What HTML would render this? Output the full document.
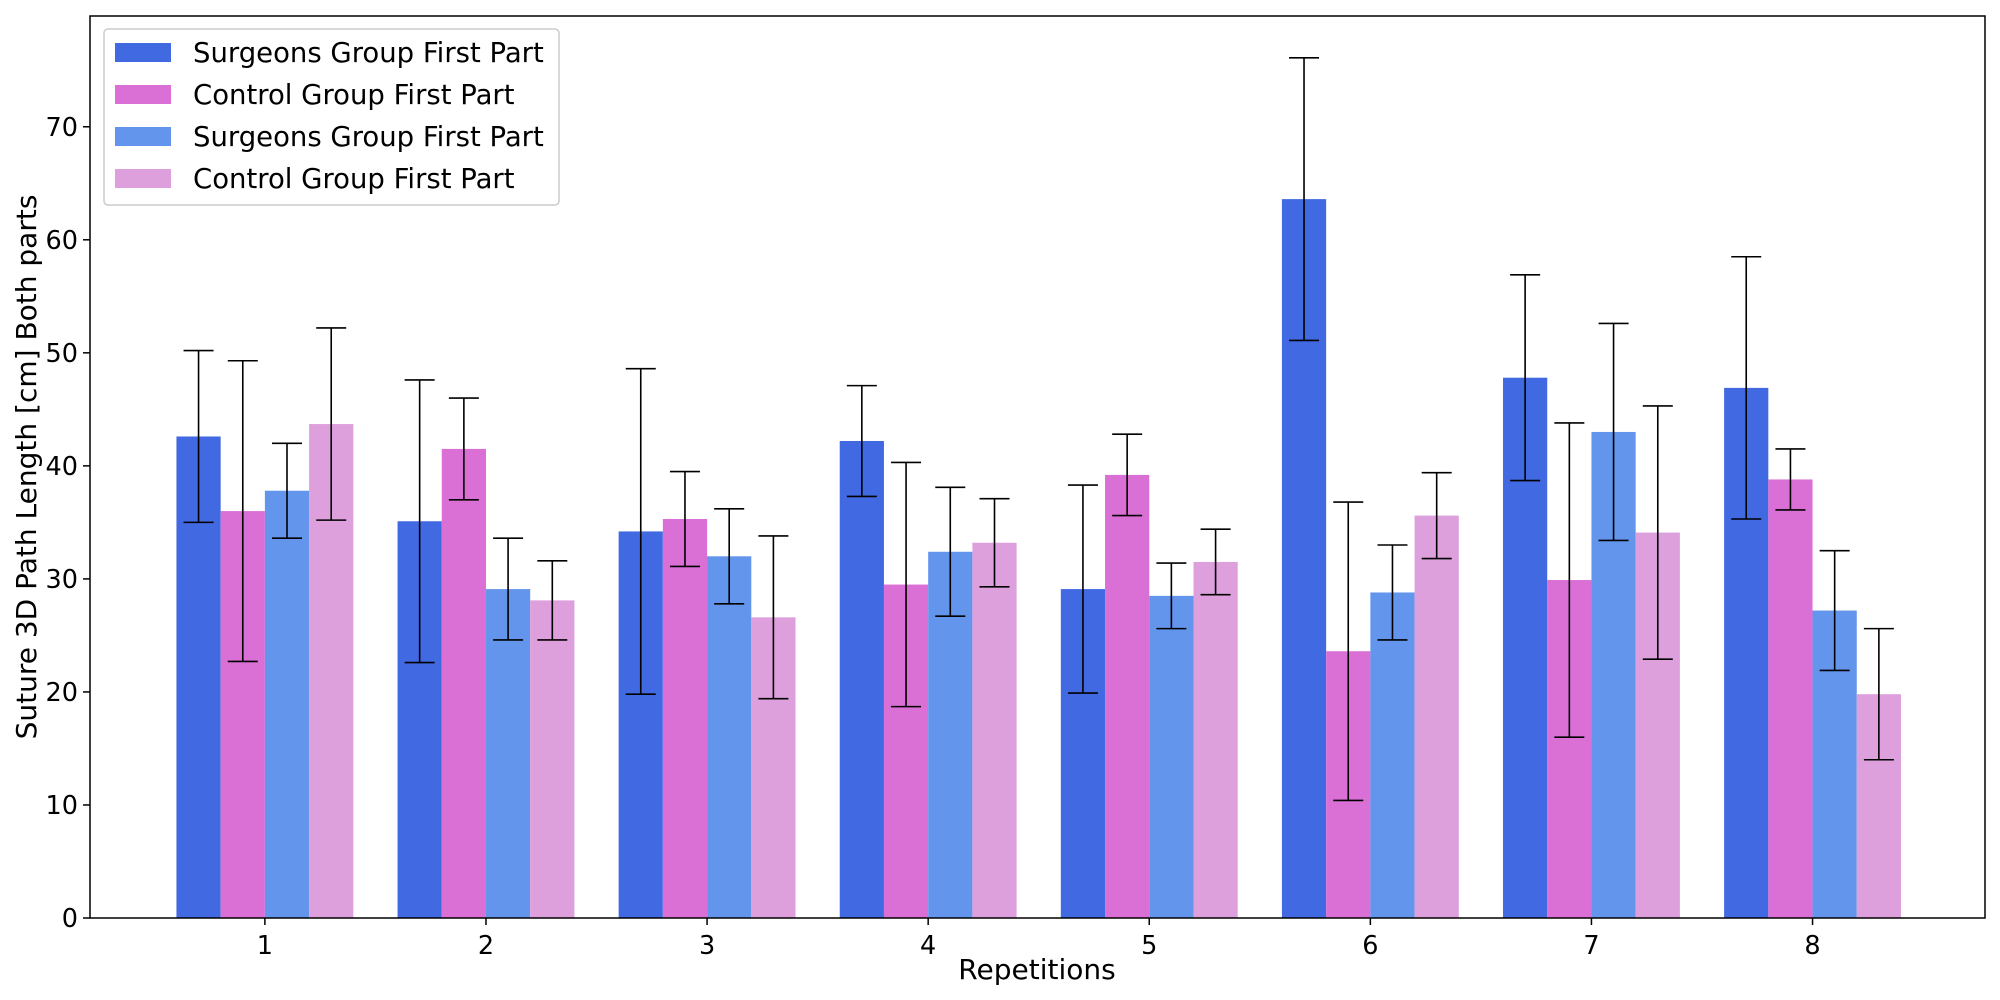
<!DOCTYPE html>
<html><head><meta charset="utf-8"><style>
body{margin:0;background:#fff}
svg{display:block;font-family:"DejaVu Sans","Liberation Sans",sans-serif}
</style></head><body>
<svg id="chart" width="2000" height="1000" xmlns="http://www.w3.org/2000/svg">
<rect width="2000" height="1000" fill="#fff"/>
<g id="bars"></g>
<g id="axes"></g>
<text x="1037" y="979" font-size="28" text-anchor="middle">Repetitions</text>
<text transform="translate(36,467) rotate(-90)" font-size="28" text-anchor="middle">Suture 3D Path Length [cm] Both parts</text>
<g>
<rect x="104" y="29" width="455" height="176" rx="4" fill="#fff" fill-opacity="0.8" stroke="#ccc" stroke-width="1.5"/>
<rect x="115" y="43" width="56" height="19" fill="#4169e1"/>
<text x="193" y="62" font-size="27.5">Surgeons Group First Part</text>
<rect x="115" y="85" width="56" height="19" fill="#da70d6"/>
<text x="193" y="104" font-size="27.5">Control Group First Part</text>
<rect x="115" y="127" width="56" height="19" fill="#6495ed"/>
<text x="193" y="146" font-size="27.5">Surgeons Group First Part</text>
<rect x="115" y="169" width="56" height="19" fill="#dda0dd"/>
<text x="193" y="188" font-size="27.5">Control Group First Part</text>
</g>
</svg>
<script>
const categories = [1,2,3,4,5,6,7,8];
const surgeons1 = [42.6,35.1,34.2,42.2,29.1,63.6,47.8,46.9];
const surgeons1Err = [7.6,12.5,14.4,4.9,9.2,12.5,9.1,11.6];
const control1 = [36.0,41.5,35.3,29.5,39.2,23.6,29.9,38.8];
const control1Err = [13.3,4.5,4.2,10.8,3.6,13.2,13.9,2.7];
const surgeons2 = [37.8,29.1,32.0,32.4,28.5,28.8,43.0,27.2];
const surgeons2Err = [4.2,4.5,4.2,5.7,2.9,4.2,9.6,5.3];
const control2 = [43.7,28.1,26.6,33.2,31.5,35.6,34.1,19.8];
const control2Err = [8.5,3.5,7.2,3.9,2.9,3.8,11.2,5.8];
const yTicks = [0,10,20,30,40,50,60,70];

const series = [[surgeons1,surgeons1Err,'#4169e1','surgeons-first'],[control1,control1Err,'#da70d6','control-first'],[surgeons2,surgeons2Err,'#6495ed','surgeons-second'],[control2,control2Err,'#dda0dd','control-second']];
const L=90,R=1985,T=16,B=918;
const xmin=0.209,xmax=8.78,ymax=79.8;
const X=v=>L+(v-xmin)/(xmax-xmin)*(R-L);
const Y=v=>B-v/ymax*(B-T);
const NS='http://www.w3.org/2000/svg';
function mk(tag,attrs,parent){const e=document.createElementNS(NS,tag);for(const k in attrs)e.setAttribute(k,attrs[k]);parent.appendChild(e);return e;}
const bars=document.getElementById('bars'),axes=document.getElementById('axes');
const bw=0.2;
series.forEach((s,si)=>{
  categories.forEach((c,i)=>{
    const x0=X(c-0.4+si*bw),x1=X(c-0.4+(si+1)*bw);
    const r=mk('rect',{x:x0,y:Y(s[0][i]),width:x1-x0,height:B-Y(s[0][i]),fill:s[2]},bars);
    
    
    const xc=(x0+x1)/2,hi=Y(s[0][i]+s[1][i]),lo=Y(s[0][i]-s[1][i]);
    const g=mk('g',{stroke:'#000','stroke-width':1.6},bars);
    
    
    mk('line',{x1:xc,x2:xc,y1:hi,y2:lo},g);
    mk('line',{x1:xc-15,x2:xc+15,y1:hi,y2:hi},g);
    mk('line',{x1:xc-15,x2:xc+15,y1:lo,y2:lo},g);
  });
});
const frame=mk('rect',{x:L,y:T,width:R-L,height:B-T,fill:'none',stroke:'#000','stroke-width':1.5},axes);


yTicks.forEach(t=>{
  mk('line',{x1:L-7,x2:L,y1:Y(t),y2:Y(t),stroke:'#000','stroke-width':1.5},axes);
  const tx=mk('text',{x:L-12,y:Y(t)+9,'font-size':25.5,'text-anchor':'end'},axes);
  tx.textContent=t;
  
  
});
categories.forEach(c=>{
  mk('line',{x1:X(c),x2:X(c),y1:B,y2:B+7,stroke:'#000','stroke-width':1.5},axes);
  const tx=mk('text',{x:X(c),y:B+36,'font-size':25.5,'text-anchor':'middle'},axes);
  tx.textContent=c;
  
  
});
</script>
</body></html>
